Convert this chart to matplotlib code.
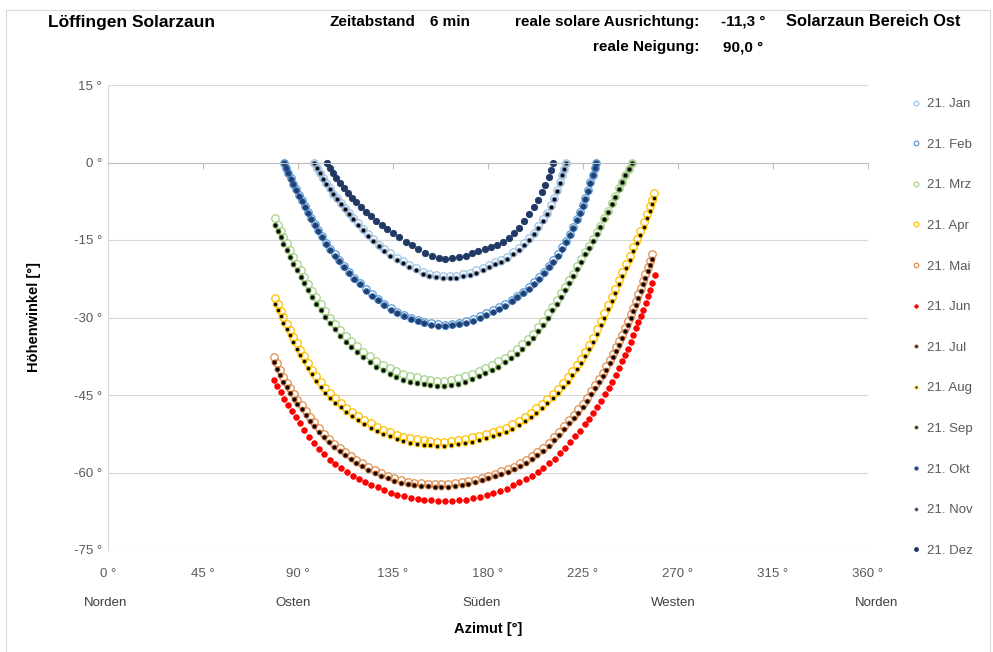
import matplotlib
matplotlib.use("Agg")
import matplotlib.pyplot as plt
from matplotlib.patches import Rectangle

plt.rcParams['font.family'] = ['Liberation Sans', 'DejaVu Sans']

# Sonnenstand (Azimut / Hoehenwinkel) je Tag, Zeitabstand 6 min
az_jan_nov = [97.9, 99.3, 100.7, 102.1, 103.6, 105.2, 106.9, 108.6, 110.4, 112.3, 114.3, 116.4, 118.6,
              120.9, 123.3, 125.8, 128.4, 131.1, 133.9, 136.8, 139.8, 142.9, 146.0, 149.2, 152.4, 155.6,
              158.8, 162.0, 165.2, 168.4, 171.5, 174.6, 177.7, 180.7, 183.6, 186.5, 189.3, 192.0, 194.6,
              197.1, 199.5, 201.8, 204.0, 206.1, 208.0, 209.8, 211.4, 212.9, 214.3, 215.4, 216.3, 217.1]
el_jan = [0.0, -1.0, -2.0, -3.0, -4.0, -5.0, -6.0, -6.9, -7.9, -8.8, -9.7, -10.7, -11.7,
          -12.8, -13.9, -14.9, -15.9, -16.8, -17.6, -18.4, -19.1, -19.9, -20.5, -21.1, -21.5, -21.8,
          -22.0, -22.0, -21.9, -21.6, -21.3, -20.9, -20.4, -19.8, -19.3, -18.8, -18.2, -17.4, -16.5,
          -15.6, -14.6, -13.6, -12.3, -11.0, -9.7, -8.3, -6.8, -5.3, -3.7, -2.4, -1.2, 0.0]
el_nov = [0.0, -1.0, -2.0, -3.1, -4.1, -5.1, -6.1, -7.1, -8.1, -9.0, -10.0, -11.0, -12.0,
          -13.1, -14.2, -15.2, -16.2, -17.1, -18.0, -18.8, -19.5, -20.3, -20.9, -21.5, -21.9, -22.2,
          -22.4, -22.4, -22.3, -22.0, -21.7, -21.3, -20.8, -20.2, -19.7, -19.2, -18.6, -17.8, -16.9,
          -16.0, -15.0, -13.9, -12.6, -11.3, -10.0, -8.6, -7.1, -5.5, -3.9, -2.5, -1.3, 0.0]

az_feb_okt = [83.5, 84.5, 85.6, 86.7, 87.9, 89.2, 90.5, 91.9, 93.3, 94.8, 96.4, 98.0, 99.7, 101.5,
              103.4, 105.4, 107.5, 109.7, 112.0, 114.4, 116.9, 119.5, 122.2, 125.0, 127.9, 130.9,
              134.0, 137.2, 140.4, 143.6, 146.8, 150.0, 153.3, 156.6, 159.9, 163.2, 166.5, 169.8,
              173.0, 176.2, 179.3, 182.4, 185.4, 188.4, 191.3, 194.1, 196.8, 199.4, 201.9, 204.3,
              206.6, 208.8, 211.0, 213.1, 215.1, 217.0, 218.8, 220.5, 222.1, 223.6, 225.0, 226.3,
              227.5, 228.6, 229.7, 230.7, 231.5]
el_feb = [0.0, -1.0, -2.0, -3.0, -4.1, -5.2, -6.2, -7.3, -8.4, -9.5, -10.7, -11.9, -13.0, -14.2,
          -15.5, -16.7, -17.8, -18.9, -20.1, -21.2, -22.3, -23.3, -24.5, -25.5, -26.4, -27.3,
          -28.2, -28.9, -29.5, -30.0, -30.4, -30.8, -31.1, -31.3, -31.4, -31.2, -31.0, -30.7,
          -30.3, -29.8, -29.2, -28.6, -28.0, -27.4, -26.6, -25.8, -25.0, -24.1, -23.2, -22.2,
          -21.1, -20.0, -18.9, -17.7, -16.4, -15.1, -13.8, -12.4, -11.0, -9.6, -8.2, -6.8,
          -5.3, -3.8, -2.4, -1.0, 0.0]
el_okt = [0.0, -1.0, -2.1, -3.1, -4.2, -5.3, -6.4, -7.5, -8.6, -9.7, -10.9, -12.1, -13.2, -14.4,
          -15.7, -16.9, -18.0, -19.1, -20.3, -21.4, -22.5, -23.6, -24.8, -25.8, -26.7, -27.6,
          -28.5, -29.2, -29.8, -30.3, -30.7, -31.1, -31.4, -31.6, -31.7, -31.5, -31.3, -31.0,
          -30.6, -30.1, -29.5, -28.9, -28.3, -27.7, -26.9, -26.1, -25.3, -24.4, -23.5, -22.5,
          -21.4, -20.3, -19.2, -18.0, -16.7, -15.4, -14.0, -12.6, -11.2, -9.8, -8.4, -7.0,
          -5.5, -4.0, -2.5, -1.1, 0.0]

az_mrz_sep = [79.3, 80.6, 81.9, 83.2, 84.7, 86.3, 87.9, 89.6, 91.4, 93.2, 95.0, 96.9, 98.9, 100.9,
              103.0, 105.2, 107.6, 110.1, 112.7, 115.4, 118.2, 121.1, 124.1, 127.2, 130.3, 133.5,
              136.7, 139.9, 143.1, 146.3, 149.6, 152.9, 156.2, 159.5, 162.8, 166.1, 169.4, 172.6,
              175.8, 178.9, 182.0, 185.0, 188.0, 190.9, 193.7, 196.4, 199.0, 201.5, 203.9, 206.2,
              208.4, 210.5, 212.6, 214.7, 216.7, 218.7, 220.6, 222.5, 224.4, 226.2, 228.0, 229.8,
              231.6, 233.4, 235.2, 237.0, 238.7, 240.4, 242.0, 243.6, 245.2, 246.8, 248.4]
el_mrz = [-10.8, -12.0, -13.2, -14.4, -15.6, -17.0, -18.3, -19.6, -20.9, -22.2, -23.5, -24.8, -26.1,
          -27.4, -28.7, -30.0, -31.2, -32.4, -33.6, -34.6, -35.6, -36.6, -37.5, -38.4, -39.1, -39.8,
          -40.4, -40.9, -41.3, -41.6, -41.9, -42.1, -42.2, -42.2, -42.1, -41.8, -41.4, -40.9, -40.4,
          -39.8, -39.2, -38.5, -37.8, -37.0, -36.1, -35.1, -34.1, -33.1, -31.9, -30.6, -29.2, -27.9,
          -26.6, -25.3, -24.0, -22.7, -21.5, -20.1, -18.7, -17.4, -16.1, -14.8, -13.5, -12.2, -10.8,
          -9.4, -7.9, -6.5, -5.0, -3.7, -2.4, -1.2, -0.1]
el_sep = [-12.1, -13.3, -14.5, -15.7, -16.9, -18.3, -19.6, -20.9, -22.2, -23.4, -24.7, -26.0, -27.3,
          -28.6, -29.9, -31.1, -32.3, -33.5, -34.7, -35.7, -36.7, -37.7, -38.6, -39.5, -40.2, -40.9,
          -41.5, -42.0, -42.4, -42.7, -42.9, -43.1, -43.2, -43.2, -43.1, -42.8, -42.4, -41.9, -41.4,
          -40.8, -40.2, -39.5, -38.7, -37.9, -37.0, -36.0, -35.0, -33.9, -32.7, -31.4, -30.0, -28.6,
          -27.3, -26.0, -24.6, -23.3, -22.0, -20.6, -19.2, -17.8, -16.5, -15.1, -13.8, -12.4, -11.0,
          -9.6, -8.1, -6.6, -5.1, -3.8, -2.5, -1.2, -0.1]

az_apr_aug = [79.3, 80.6, 81.9, 83.2, 84.7, 86.2, 87.8, 89.5, 91.2, 93.0, 94.8, 96.7, 98.7, 100.8,
              103.0, 105.4, 107.9, 110.4, 113.0, 115.8, 118.6, 121.5, 124.5, 127.5, 130.6, 133.7,
              136.8, 140.0, 143.2, 146.4, 149.6, 152.9, 156.2, 159.5, 162.8, 166.1, 169.4, 172.7,
              175.9, 179.1, 182.3, 185.5, 188.6, 191.6, 194.6, 197.5, 200.3, 203.0, 205.7, 208.3,
              210.9, 213.3, 215.6, 217.9, 220.1, 222.2, 224.2, 226.2, 228.1, 230.0, 231.8, 233.6,
              235.3, 237.0, 238.7, 240.4, 242.1, 243.8, 245.5, 247.2, 248.9, 250.6, 252.3, 254.0,
              255.5, 256.8, 257.8, 258.6]
el_apr = [-26.2, -27.4, -28.7, -29.9, -31.2, -32.4, -33.7, -35.0, -36.2, -37.5, -38.8, -40.1, -41.3,
          -42.5, -43.7, -44.7, -45.6, -46.5, -47.5, -48.3, -49.0, -49.8, -50.5, -51.1, -51.7, -52.2,
          -52.7, -53.1, -53.4, -53.6, -53.8, -53.9, -54.0, -54.0, -53.9, -53.7, -53.5, -53.2, -52.9,
          -52.5, -52.2, -51.8, -51.3, -50.7, -50.0, -49.2, -48.4, -47.6, -46.7, -45.8, -44.8, -43.8,
          -42.7, -41.6, -40.4, -39.2, -38.0, -36.7, -35.3, -33.9, -32.3, -30.7, -29.2, -27.6, -26.0,
          -24.4, -22.8, -21.2, -19.6, -18.0, -16.4, -14.8, -13.2, -11.6, -10.0, -8.5, -7.2, -5.9]
el_aug = [-27.3, -28.5, -29.8, -31.0, -32.2, -33.4, -34.7, -36.0, -37.2, -38.4, -39.7, -41.0, -42.2,
          -43.4, -44.6, -45.6, -46.5, -47.4, -48.3, -49.1, -49.8, -50.6, -51.3, -51.9, -52.5, -53.0,
          -53.5, -53.9, -54.2, -54.4, -54.6, -54.7, -54.8, -54.8, -54.7, -54.5, -54.3, -54.0, -53.7,
          -53.3, -53.0, -52.6, -52.1, -51.5, -50.8, -50.0, -49.2, -48.4, -47.5, -46.6, -45.6, -44.6,
          -43.5, -42.4, -41.2, -40.0, -38.8, -37.5, -36.1, -34.7, -33.1, -31.5, -30.0, -28.4, -26.8,
          -25.2, -23.6, -22.0, -20.4, -18.8, -17.2, -15.6, -14.0, -12.4, -10.8, -9.3, -8.0, -6.8]

az_mai_jul = [78.8, 80.2, 81.7, 83.2, 84.8, 86.4, 88.1, 89.9, 91.8, 93.7, 95.8, 97.9, 100.1, 102.4,
              104.8, 107.3, 109.8, 112.4, 115.1, 117.8, 120.6, 123.5, 126.5, 129.5, 132.6, 135.7,
              138.9, 142.1, 145.3, 148.5, 151.7, 154.9, 158.1, 161.3, 164.5, 167.7, 170.9, 174.1,
              177.2, 180.3, 183.4, 186.4, 189.4, 192.3, 195.2, 198.0, 200.8, 203.5, 206.2, 208.8,
              211.3, 213.8, 216.2, 218.5, 220.7, 222.9, 225.0, 227.0, 229.0, 230.9, 232.7, 234.5,
              236.2, 237.8, 239.4, 240.9, 242.4, 243.8, 245.2, 246.5, 247.8, 249.0, 250.2, 251.3,
              252.4, 253.5, 254.6, 255.7, 256.8, 258.0]
el_mai = [-37.6, -38.9, -40.2, -41.5, -42.6, -43.7, -44.8, -45.9, -47.0, -48.1, -49.2, -50.3, -51.4,
          -52.5, -53.5, -54.4, -55.2, -56.0, -56.8, -57.5, -58.2, -59.0, -59.6, -60.1, -60.6, -61.1,
          -61.5, -61.8, -62.0, -62.1, -62.2, -62.3, -62.3, -62.3, -62.1, -61.9, -61.7, -61.4, -61.0,
          -60.6, -60.2, -59.8, -59.4, -58.9, -58.2, -57.5, -56.8, -56.1, -55.2, -54.2, -53.2, -52.1,
          -51.0, -49.9, -48.9, -47.8, -46.7, -45.5, -44.3, -43.1, -41.9, -40.7, -39.4, -38.2, -37.0,
          -35.8, -34.6, -33.3, -32.0, -30.7, -29.4, -28.1, -26.8, -25.5, -24.2, -22.9, -21.6, -20.3,
          -19.0, -17.8]
el_jul = [-38.6, -39.9, -41.2, -42.4, -43.5, -44.6, -45.7, -46.8, -47.8, -48.9, -50.0, -51.0, -52.1,
          -53.1, -54.1, -55.0, -55.8, -56.6, -57.4, -58.1, -58.8, -59.6, -60.1, -60.6, -61.1, -61.6,
          -62.0, -62.3, -62.5, -62.6, -62.7, -62.8, -62.8, -62.8, -62.6, -62.4, -62.2, -61.9, -61.5,
          -61.1, -60.7, -60.3, -59.9, -59.4, -58.8, -58.1, -57.4, -56.7, -55.8, -54.8, -53.8, -52.7,
          -51.6, -50.5, -49.5, -48.4, -47.3, -46.1, -44.9, -43.7, -42.5, -41.3, -40.1, -38.9, -37.7,
          -36.5, -35.3, -34.0, -32.7, -31.4, -30.1, -28.8, -27.5, -26.2, -24.9, -23.6, -22.3, -21.0,
          -19.8, -18.6]

az_jun = [78.8, 80.4, 82.0, 83.7, 85.4, 87.2, 89.1, 91.1, 93.2, 95.4, 97.7, 100.1, 102.6, 105.2,
          107.8, 110.5, 113.2, 116.0, 118.8, 121.7, 124.7, 127.8, 130.9, 134.0, 137.2, 140.4, 143.6,
          146.8, 150.0, 153.3, 156.6, 159.9, 163.2, 166.5, 169.8, 173.1, 176.3, 179.5, 182.7, 185.9,
          189.0, 192.0, 195.0, 198.0, 200.9, 203.7, 206.4, 209.1, 211.7, 214.2, 216.7, 219.1, 221.4,
          223.7, 225.9, 228.0, 230.0, 232.0, 233.9, 235.7, 237.4, 239.1, 240.7, 242.2, 243.7, 245.1,
          246.4, 247.7, 249.0, 250.2, 251.4, 252.6, 253.7, 254.8, 255.9, 256.9, 257.9, 259.3]
el_jun = [-42.0, -43.2, -44.5, -45.8, -46.9, -48.1, -49.3, -50.5, -51.8, -53.1, -54.3, -55.5, -56.5,
          -57.5, -58.3, -59.1, -59.9, -60.6, -61.2, -61.8, -62.4, -62.9, -63.4, -63.9, -64.3, -64.6,
          -64.9, -65.1, -65.3, -65.4, -65.5, -65.6, -65.5, -65.4, -65.3, -65.0, -64.7, -64.4, -64.0,
          -63.6, -63.1, -62.5, -61.9, -61.3, -60.7, -59.9, -59.1, -58.2, -57.3, -56.3, -55.2, -54.1,
          -53.0, -51.9, -50.7, -49.6, -48.5, -47.4, -46.2, -44.9, -43.6, -42.4, -41.1, -39.8, -38.5,
          -37.3, -36.0, -34.7, -33.4, -32.1, -30.9, -29.7, -28.5, -27.2, -25.9, -24.6, -23.3, -21.7]

az_dez = [103.7, 105.1, 106.6, 108.2, 109.9, 111.7, 113.6, 115.6, 117.7, 119.9, 122.2, 124.6, 127.1,
          129.7, 132.4, 135.2, 138.1, 141.1, 144.1, 147.2, 150.3, 153.5, 156.7, 159.9, 163.1, 166.3,
          169.5, 172.6, 175.6, 178.6, 181.5, 184.4, 187.2, 189.9, 192.5, 195.0, 197.4, 199.7, 201.8,
          203.8, 205.6, 207.3, 208.8, 210.0, 211.1]
el_dez = [0.0, -1.0, -2.0, -3.0, -4.0, -4.9, -5.9, -6.8, -7.7, -8.6, -9.5, -10.4, -11.3,
          -12.1, -12.9, -13.7, -14.5, -15.3, -16.0, -16.8, -17.5, -18.1, -18.5, -18.6, -18.5, -18.3,
          -18.0, -17.6, -17.2, -16.8, -16.4, -15.9, -15.3, -14.6, -13.7, -12.6, -11.4, -10.0, -8.7,
          -7.3, -5.8, -4.3, -2.9, -1.5, 0.0]

x_ticks = [0, 45, 90, 135, 180, 225, 270, 315, 360]
y_ticks = [15, 0, -15, -30, -45, -60, -75]
himmelsrichtung = ["Norden", "Osten", "Süden", "Westen", "Norden"]
richtung_x = [-1, 88, 177, 268, 364]

# (label, azimut, hoehe, markerart, randfarbe, fuellung)
series = [
    ("21. Jan", az_jan_nov, el_jan, "ring", "#9DC3E6", "none"),
    ("21. Feb", az_feb_okt, el_feb, "ring", "#5B9BD5", "none"),
    ("21. Mrz", az_mrz_sep, el_mrz, "ring", "#A9D18E", "none"),
    ("21. Apr", az_apr_aug, el_apr, "ring", "#FFC000", "none"),
    ("21. Mai", az_mai_jul, el_mai, "ring", "#E0904F", "none"),
    ("21. Jun", az_jun, el_jun, "dot", "#FF0000", "#FF0000"),
    ("21. Jul", az_mai_jul, el_jul, "small", "#9A4A1C", "black"),
    ("21. Aug", az_apr_aug, el_aug, "small", "#F2B800", "black"),
    ("21. Sep", az_mrz_sep, el_sep, "small", "#4E7A2E", "black"),
    ("21. Okt", az_feb_okt, el_okt, "dot", "#2E5A99", "#1F3F73"),
    ("21. Nov", az_jan_nov, el_nov, "small", "#6F86A6", "black"),
    ("21. Dez", az_dez, el_dez, "dez", "#1F3864", "#1F3864"),
]

fig = plt.figure(figsize=(9.93, 6.52), dpi=100)
fig.patches.append(Rectangle((6 / 993, -0.02), 984 / 993, 1 - 10 / 652 + 0.02, transform=fig.transFigure,
                             fill=False, edgecolor="#D9D9D9", linewidth=0.8))

ax = fig.add_axes([107.7 / 993, 1 - 550 / 652, 760 / 993, 465 / 652])
ax.set_xlim(0, 360)
ax.set_ylim(-75, 15)

for label, az, el, kind, color, fill in series:
    if kind == "ring":
        ax.plot(az, el, ls="none", marker="o", ms=5.4, mfc=fill, mec=color, mew=0.9, label=label)
    elif kind == "small":
        ax.plot(az, el, ls="none", marker="o", ms=3.3, mfc=fill, mec=color, mew=0.8, label=label)
    elif kind == "dez":
        ax.plot(az, el, ls="none", marker="o", ms=4.6, mfc=fill, mec=color, mew=0.6, label=label)
    else:
        ax.plot(az, el, ls="none", marker="o", ms=4.0, mfc=fill, mec=color, mew=0.6, label=label)

ax.set_yticks(y_ticks)
ax.set_yticklabels([f"{v} °" for v in y_ticks])
ax.yaxis.grid(True, color="#D9D9D9", linewidth=0.8)
ax.set_axisbelow(True)
ax.tick_params(axis="y", length=0, pad=4, labelsize=9.5, labelcolor="#595959")

# Azimutachse schneidet bei 0 Grad, Beschriftung unten
ax.set_xticks(x_ticks)
ax.spines["bottom"].set_position(("data", 0))
ax.spines["bottom"].set_color("#BFBFBF")
ax.tick_params(axis="x", direction="out", length=4, color="#BFBFBF", labelbottom=False)
for side in ("top", "right"):
    ax.spines[side].set_visible(False)
ax.spines["left"].set_color("#D9D9D9")

sec = ax.secondary_xaxis(0.0)
sec.set_xticks(x_ticks)
sec.set_xticklabels([f"{v} °" for v in x_ticks])
sec.tick_params(length=0, pad=13, labelsize=9.5, labelcolor="#595959")
sec.spines["bottom"].set_visible(False)
sec.set_xlabel("Azimut [°]", fontsize=10.5, fontweight="bold", labelpad=30)

for name, xpos in zip(himmelsrichtung, richtung_x):
    ax.text(xpos, -0.115, name, transform=ax.get_xaxis_transform(), ha="center", va="center",
            fontsize=9.5, color="#404040")

ax.set_ylabel("Höhenwinkel [°]", fontsize=10.5, fontweight="bold", labelpad=24)

ax.legend(loc="upper left", bbox_to_anchor=(912 / 993, 1 - 98 / 652), bbox_transform=fig.transFigure,
          frameon=False, fontsize=9.5, labelcolor="#595959", markerscale=0.62, handlelength=0.6,
          handletextpad=0.55, labelspacing=2.15, borderaxespad=0, borderpad=0)

# Kopfzeile
hdr = dict(fontsize=11, fontweight="bold", color="black", va="center")
fig.text(48 / 993, 1 - 23 / 652, "Löffingen Solarzaun", fontsize=12.5, fontweight="bold", va="center")
fig.text(330 / 993, 1 - 22 / 652, "Zeitabstand", **hdr)
fig.text(430 / 993, 1 - 22 / 652, "6 min", **hdr)
fig.text(699 / 993, 1 - 22 / 652, "reale solare Ausrichtung:", ha="right", **hdr)
fig.text(721 / 993, 1 - 22 / 652, "-11,3 °", **hdr)
fig.text(786 / 993, 1 - 22 / 652, "Solarzaun Bereich Ost", fontsize=11.8, fontweight="bold", va="center")
fig.text(699 / 993, 1 - 47 / 652, "reale Neigung:", ha="right", **hdr)
fig.text(723 / 993, 1 - 47 / 652, "90,0 °", **hdr)

fig.savefig("out.png", dpi=100)
